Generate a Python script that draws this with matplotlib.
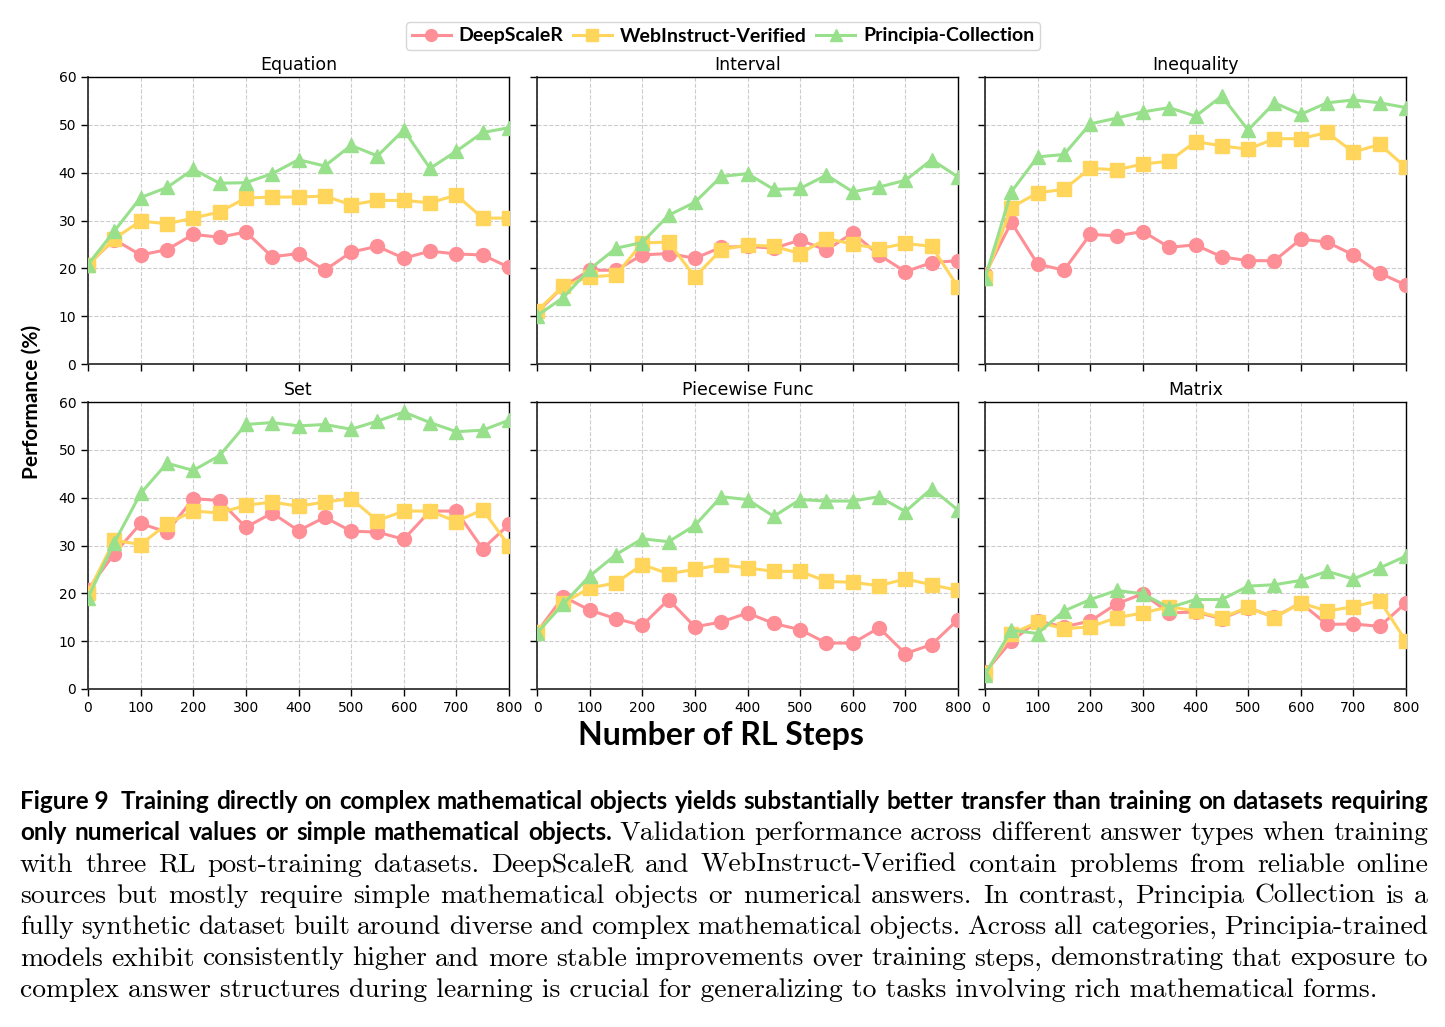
import matplotlib
matplotlib.use("Agg")
import matplotlib.pyplot as plt

steps = [0, 50, 100, 150, 200, 250, 300, 350, 400, 450, 500, 550, 600, 650, 700, 750, 800]
series_names = ["DeepScaleR", "WebInstruct-Verified", "Principia-Collection"]
panel_titles = ["Equation", "Interval", "Inequality", "Set", "Piecewise Func", "Matrix"]

equation_deepscaler = [20.8, 26.0, 22.8, 23.9, 27.1, 26.5, 27.6, 22.4, 23.1, 19.6, 23.4, 24.6, 22.1, 23.6, 23.0, 22.8, 20.2]
equation_webinstruct = [20.7, 26.2, 29.9, 29.3, 30.5, 31.8, 34.7, 34.9, 34.9, 35.1, 33.3, 34.2, 34.2, 33.7, 35.3, 30.5, 30.5]
equation_principia = [20.8, 27.8, 34.8, 36.9, 40.7, 37.8, 37.9, 39.8, 42.7, 41.4, 45.7, 43.5, 48.9, 40.9, 44.5, 48.4, 49.4]

interval_deepscaler = [10.8, 16.2, 19.6, 19.6, 22.8, 23.1, 22.1, 24.4, 24.6, 24.2, 25.9, 23.8, 27.4, 22.8, 19.3, 21.2, 21.6]
interval_webinstruct = [11.1, 16.3, 18.2, 18.6, 25.3, 25.5, 18.2, 23.9, 24.9, 24.6, 23.1, 26.2, 25.1, 24.1, 25.2, 24.6, 16.1]
interval_principia = [10.1, 13.9, 19.8, 24.2, 25.4, 31.1, 33.8, 39.2, 39.8, 36.5, 36.7, 39.5, 36.0, 37.0, 38.4, 42.7, 39.1]

inequality_deepscaler = [18.8, 29.6, 20.9, 19.6, 27.1, 26.8, 27.7, 24.4, 24.9, 22.4, 21.6, 21.6, 26.1, 25.5, 22.8, 19.0, 16.5]
inequality_webinstruct = [17.9, 32.7, 35.8, 36.5, 40.9, 40.6, 41.8, 42.4, 46.5, 45.6, 44.9, 47.1, 47.1, 48.4, 44.3, 45.9, 41.1]
inequality_principia = [17.9, 36.0, 43.3, 43.8, 50.2, 51.4, 52.7, 53.6, 51.8, 56.0, 48.9, 54.6, 52.2, 54.6, 55.2, 54.6, 53.6]

set_deepscaler = [20.8, 28.3, 34.6, 32.8, 39.8, 39.4, 33.8, 36.8, 33.1, 35.9, 33.0, 32.8, 31.3, 37.2, 37.2, 29.3, 34.4]
set_webinstruct = [20.1, 31.1, 30.2, 34.5, 37.2, 36.8, 38.4, 39.1, 38.2, 39.1, 39.8, 35.2, 37.2, 37.2, 35.0, 37.5, 29.9]
set_principia = [19.1, 30.6, 40.9, 47.2, 45.7, 48.8, 55.3, 55.7, 55.0, 55.3, 54.3, 56.0, 57.9, 55.7, 53.8, 54.1, 56.2]

piecewise_deepscaler = [11.9, 19.3, 16.5, 14.7, 13.3, 18.7, 13.0, 14.0, 15.9, 13.7, 12.4, 9.6, 9.6, 12.8, 7.4, 9.3, 14.5]
piecewise_webinstruct = [11.9, 18.0, 21.1, 22.2, 26.0, 24.1, 25.0, 26.0, 25.3, 24.6, 24.6, 22.5, 22.3, 21.6, 23.0, 21.8, 20.6]
piecewise_principia = [11.7, 17.8, 23.6, 28.1, 31.4, 30.8, 34.2, 40.2, 39.6, 36.1, 39.6, 39.3, 39.3, 40.2, 37.1, 41.9, 37.4]

matrix_deepscaler = [3.5, 10.0, 14.2, 13.0, 14.2, 17.8, 19.9, 15.9, 16.1, 14.7, 17.0, 15.0, 18.0, 13.5, 13.6, 13.1, 18.0]
matrix_webinstruct = [3.3, 11.5, 14.0, 12.6, 13.0, 14.9, 15.9, 17.2, 16.3, 14.9, 17.1, 14.9, 18.0, 16.3, 17.2, 18.5, 10.0]
matrix_principia = [3.0, 12.3, 11.6, 16.3, 18.7, 20.6, 19.9, 17.0, 18.7, 18.7, 21.5, 21.8, 22.7, 24.6, 23.0, 25.3, 27.8]

x_ticks = [0, 100, 200, 300, 400, 500, 600, 700, 800]
y_ticks = [0, 10, 20, 30, 40, 50, 60]

caption_label = "Figure 9"
caption_bold_1 = "Training directly on complex mathematical objects yields substantially better transfer than training on datasets requiring"
caption_bold_2 = "only numerical values or simple mathematical objects."
caption_lines = [
    "Validation performance across different answer types when training",
    "with three RL post-training datasets. DeepScaleR and WebInstruct-Verified contain problems from reliable online",
    "sources but mostly require simple mathematical objects or numerical answers. In contrast, Principia Collection is a",
    "fully synthetic dataset built around diverse and complex mathematical objects. Across all categories, Principia-trained",
    "models exhibit consistently higher and more stable improvements over training steps, demonstrating that exposure to",
    "complex answer structures during learning is crucial for generalizing to tasks involving rich mathematical forms.",
]

panels = [
    (equation_deepscaler, equation_webinstruct, equation_principia),
    (interval_deepscaler, interval_webinstruct, interval_principia),
    (inequality_deepscaler, inequality_webinstruct, inequality_principia),
    (set_deepscaler, set_webinstruct, set_principia),
    (piecewise_deepscaler, piecewise_webinstruct, piecewise_principia),
    (matrix_deepscaler, matrix_webinstruct, matrix_principia),
]

colors = ["#FF8F96", "#FFD55C", "#98E08C"]
markers = ["o", "s", "^"]

W, H = 1445, 1027
fig = plt.figure(figsize=(W / 100, H / 100), dpi=100)

col_left = [88, 537, 985]
ax_w = 421
row_top = [77, 402]
ax_h = 287

handles = []
for i, (title, data) in enumerate(zip(panel_titles, panels)):
    r, c = divmod(i, 3)
    ax = fig.add_axes([col_left[c] / W, 1 - (row_top[r] + ax_h) / H, ax_w / W, ax_h / H])
    for j, (vals, name) in enumerate(zip(data, series_names)):
        ms = 10.5 if markers[j] != "o" else 10
        (ln,) = ax.plot(steps, vals, color=colors[j], marker=markers[j], markersize=ms,
                        linewidth=2.2, label=name, zorder=3)
        if i == 0:
            handles.append(ln)
    ax.set_xlim(0, 800)
    ax.set_ylim(0, 60)
    ax.set_xticks(x_ticks)
    ax.set_yticks(y_ticks)
    ax.grid(True, linestyle="--", color="#cccccc", linewidth=0.8, zorder=0)
    ax.set_title(title, fontsize=12.5, pad=5)
    ax.tick_params(axis="both", labelsize=10, length=5, width=1.0, direction="out")
    if c != 0:
        ax.tick_params(axis="y", labelleft=False)
    if r == 0:
        ax.tick_params(axis="x", labelbottom=False)
    for s in ["left", "bottom"]:
        ax.spines[s].set_linewidth(1.3)
        ax.spines[s].set_color("#333333")
    for s in ["top", "right"]:
        ax.spines[s].set_linewidth(1.0)
        ax.spines[s].set_color("black")

leg = fig.legend(handles=handles, labels=series_names, loc="center", ncol=3,
                 bbox_to_anchor=(723 / W, 1 - 36 / H), frameon=True, fancybox=True,
                 prop={"family": "Lato", "weight": "bold", "size": 14},
                 handlelength=2.0, handletextpad=0.4, columnspacing=0.5,
                 borderpad=0.3, markerscale=0.85)
leg.get_frame().set_edgecolor("#cccccc")
leg.get_frame().set_linewidth(1.0)

fig.text(32 / W, 1 - 402 / H, "Performance (%)", rotation=90, ha="center", va="center",
         fontsize=15, fontweight="bold", family="Lato")
fig.text(721 / W, 1 - 736 / H, "Number of RL Steps", ha="center", va="center",
         fontsize=23, fontweight="bold", family="Lato")

# ---- caption (justified text, word by word) ----
fig.canvas.draw()
rend = fig.canvas.get_renderer()
serif = dict(family="cmr10")
bold = dict(family="Lato", fontweight="bold")


def text_width(s, size, style):
    t = fig.text(0, 0, s, fontsize=size, **style)
    w = t.get_window_extent(rend).width
    t.remove()
    return w


left_px, right_px = 20, 1428
serif_size = 10 * 1360 / text_width(caption_lines[-1], 10, serif)
bold_size = 10 * 1295 / text_width(caption_bold_1, 10, bold)
baselines = [809 + 31.3 * k for k in range(7)]


def place_justified(words, y_px, start_px=left_px):
    widths = [text_width(w, sz, st) for w, sz, st in words]
    gap = (right_px - start_px - sum(widths)) / (len(words) - 1)
    x = start_px
    for (w, sz, st), wd in zip(words, widths):
        fig.text(x / W, 1 - y_px / H, w, fontsize=sz, va="baseline", ha="left", **st)
        x += wd + gap


fig.text(left_px / W, 1 - baselines[0] / H, caption_label, fontsize=bold_size,
         va="baseline", ha="left", **bold)
label_w = text_width(caption_label, bold_size, bold)
place_justified([(w, bold_size, bold) for w in caption_bold_1.split(" ")], baselines[0],
                start_px=left_px + label_w + 12)
words2 = [(w, bold_size, bold) for w in caption_bold_2.split(" ")] + \
         [(w, serif_size, serif) for w in caption_lines[0].split(" ")]
place_justified(words2, baselines[1])
for k in range(1, 5):
    place_justified([(w, serif_size, serif) for w in caption_lines[k].split(" ")], baselines[k + 1])
fig.text(left_px / W, 1 - baselines[6] / H, caption_lines[-1], fontsize=serif_size,
         va="baseline", ha="left", **serif)

fig.savefig("out.png", dpi=100)
